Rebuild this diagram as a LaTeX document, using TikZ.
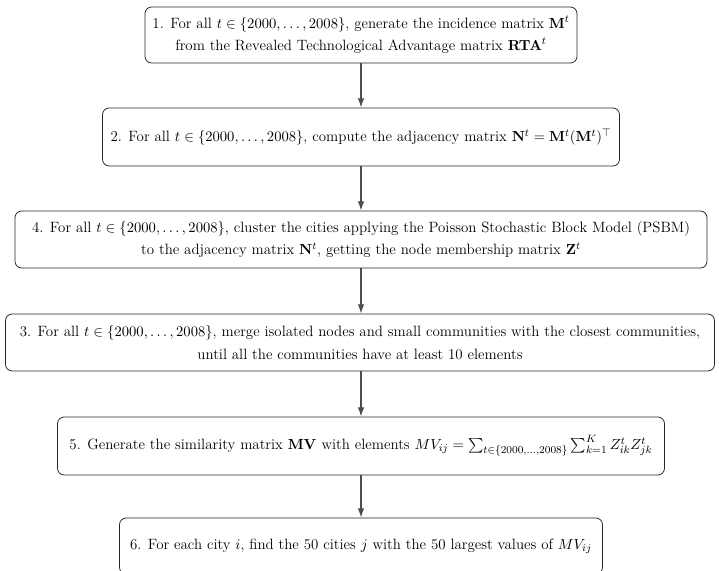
\documentclass[tikz,border=0pt]{standalone}
\usepackage{amsmath}
\usetikzlibrary{arrows.meta}
\begin{document}
\begin{tikzpicture}[x=0.75pt,y=-0.75pt,
  stepbox/.style={draw=black!85,line width=0.6pt,rounded corners=5pt,align=center,inner xsep=2pt,inner ysep=2pt,font=\fontsize{11.2}{17}\selectfont},
  flow/.style={draw=black!70,line width=1pt,-{Latex[length=7pt,width=5pt]}}]
\useasboundingbox (0,0) rectangle (719,571);
\node[stepbox,minimum width=432*0.75pt,minimum height=56*0.75pt] (b1) at (361,35)
  {1. For all $t \in \{2000,\dots,2008\}$, generate the incidence matrix $\mathbf{M}^t$\\ from the Revealed Technological Advantage matrix $\mathbf{RTA}^t$};
\node[stepbox,minimum width=517*0.75pt,minimum height=58*0.75pt] (b2) at (361,137)
  {2. For all $t \in \{2000,\dots,2008\}$, compute the adjacency matrix $\mathbf{N}^t=\mathbf{M}^t(\mathbf{M}^t)^\top$};
\node[stepbox,minimum width=692*0.75pt,minimum height=57*0.75pt] (b3) at (361,239.5)
  {4. For all $t \in \{2000,\dots,2008\}$, cluster the cities applying the Poisson Stochastic Block Model (PSBM)\\ to the adjacency matrix $\mathbf{N}^t$, getting the node membership matrix $\mathbf{Z}^t$};
\node[stepbox,minimum width=709*0.75pt,minimum height=57*0.75pt] (b4) at (360,342.5)
  {3. For all $t \in \{2000,\dots,2008\}$, merge isolated nodes and small communities with the closest communities,\\ until all the communities have at least 10 elements};
\node[stepbox,minimum width=607*0.75pt,minimum height=58*0.75pt] (b5) at (361,446)
  {5. Generate the similarity matrix $\mathbf{MV}$ with elements $MV_{ij}=\sum_{t\in\{2000,\dots,2008\}}\sum_{k=1}^{K} Z_{ik}^t Z_{jk}^t$};
\node[stepbox,minimum width=483*0.75pt,minimum height=56*0.75pt] (b6) at (361,546)
  {6. For each city $i$, find the 50 cities $j$ with the 50 largest values of $MV_{ij}$};
\draw[flow] (b1) -- (b2);
\draw[flow] (b2) -- (b3);
\draw[flow] (b3) -- (b4.north -| b3.south);
\draw[flow] (b4.south -| b3.south) -- (b5);
\draw[flow] (b5) -- (b6);
\end{tikzpicture}
\end{document}
